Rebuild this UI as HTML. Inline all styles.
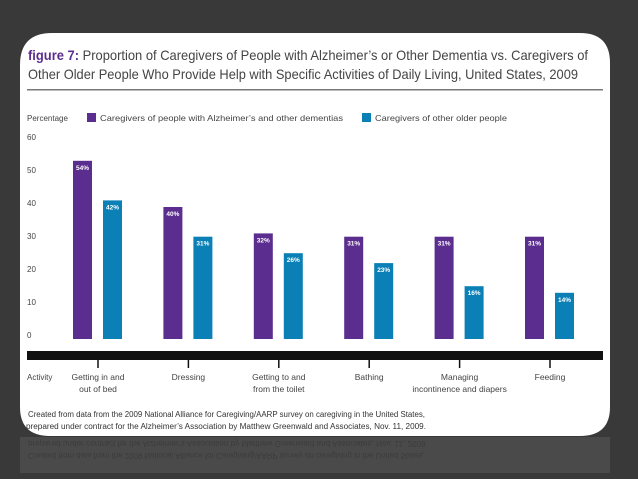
<!DOCTYPE html>
<html><head><meta charset="utf-8"><style>
body{margin:0;width:638px;height:479px;overflow:hidden;background:#3a3a3a;font-family:"Liberation Sans",sans-serif;}
#bg{position:absolute;left:0;top:0}
</style></head><body>
<svg id="bg" width="638" height="479">
<rect x="0" y="0" width="638" height="479" fill="#393939"/>
<rect x="20" y="437" width="590" height="36" fill="#4a4a4a"/>
<path d="M52,33 H580 Q610,33 610,63 V407 Q610,436 580,436 H50 Q20,436 20,407 V65 Q20,33 52,33 Z" fill="#fff"/>
<text x="28" y="60" font-size="14" fill="#444" textLength="560" lengthAdjust="spacingAndGlyphs"><tspan font-weight="bold" fill="#5b2d8e">figure 7:</tspan> Proportion of Caregivers of People with Alzheimer’s or Other Dementia vs. Caregivers of</text>
<text x="28" y="79" font-size="14" fill="#444" textLength="550" lengthAdjust="spacingAndGlyphs">Other Older People Who Provide Help with Specific Activities of Daily Living, United States, 2009</text>
<rect x="27" y="89" width="576" height="1.5" fill="#777"/>
<text x="27" y="121" font-size="8" fill="#444">Percentage</text>
<rect x="87" y="113" width="9" height="9" fill="#5b2d8e"/>
<text x="100" y="121" font-size="8.5" fill="#444" textLength="243" lengthAdjust="spacingAndGlyphs">Caregivers of people with Alzheimer’s and other dementias</text>
<rect x="362" y="113" width="9" height="9" fill="#0b80b6"/>
<text x="375" y="121" font-size="8.5" fill="#444" textLength="132" lengthAdjust="spacingAndGlyphs">Caregivers of other older people</text>
<g id="axis"></g>
<g id="bars"></g>
<rect x="27" y="351" width="576" height="9" fill="#111"/>
<text x="27" y="380" font-size="8" fill="#444">Activity</text>
<g id="cats"></g>
<text x="28" y="417" font-size="8" fill="#333" textLength="397" lengthAdjust="spacingAndGlyphs">Created from data from the 2009 National Alliance for Caregiving/AARP survey on caregiving in the United States,</text>
<text x="26" y="429" font-size="8" fill="#333" textLength="400" lengthAdjust="spacingAndGlyphs">prepared under contract for the Alzheimer’s Association by Matthew Greenwald and Associates, Nov. 11, 2009.</text>
<g opacity="0.35">
<text x="28" y="-441" font-size="8" fill="#222" transform="scale(1,-1)" textLength="400" lengthAdjust="spacingAndGlyphs">prepared under contract for the Alzheimer’s Association by Matthew Greenwald and Associates, Nov. 11, 2009.</text>
<text x="28" y="-453" font-size="8" fill="#222" transform="scale(1,-1)" textLength="397" lengthAdjust="spacingAndGlyphs">Created from data from the 2009 National Alliance for Caregiving/AARP survey on caregiving in the United States,</text>
</g>
</svg>
<script>
const categories=[["Getting in and","out of bed"],["Dressing"],["Getting to and","from the toilet"],["Bathing"],["Managing","incontinence and diapers"],["Feeding"]];
const alzValues=[54,40,32,31,31,31];
const otherValues=[42,31,26,23,16,14];
const yTicks=[0,10,20,30,40,50,60];
const NS="http://www.w3.org/2000/svg";
function y(v){return 339-v*3.3;}
function x(i){return 73+i*90.4;}
function mk(t,a,p){const e=document.createElementNS(NS,t);for(const k in a)e.setAttribute(k,a[k]);p.appendChild(e);return e;}
const ax=document.getElementById('axis'),bars=document.getElementById('bars'),cats=document.getElementById('cats');
yTicks.forEach(v=>{const t=mk('text',{x:27,y:y(v)-1,'font-size':8,fill:'#444'},ax);t.textContent=v;

});
function bar(i,v,off,col,nm){
 const r=mk('rect',{x:x(i)+off,y:y(v),width:19,height:339-y(v),fill:col},bars);
 
 
 const t=mk('text',{x:x(i)+off+9.5,y:y(v)+9,'font-size':6.5,'font-weight':'bold',fill:'#fff','text-anchor':'middle'},bars);t.textContent=v+'%';
 
 
}
categories.forEach((c,i)=>{
 bar(i,alzValues[i],0,'#5b2d8e','bar-alzheimers');
 bar(i,otherValues[i],30,'#0b80b6','bar-other');
 const cx=x(i)+25;
 const tk=mk('rect',{x:cx-0.75,y:360,width:1.5,height:8,fill:'#111'},cats);
 
 
 c.forEach((l,j)=>{const t=mk('text',{x:cx,y:380+j*12,'font-size':8.5,fill:'#444','text-anchor':'middle'},cats);t.textContent=l;
 
 });
});
</script>
</body></html>
